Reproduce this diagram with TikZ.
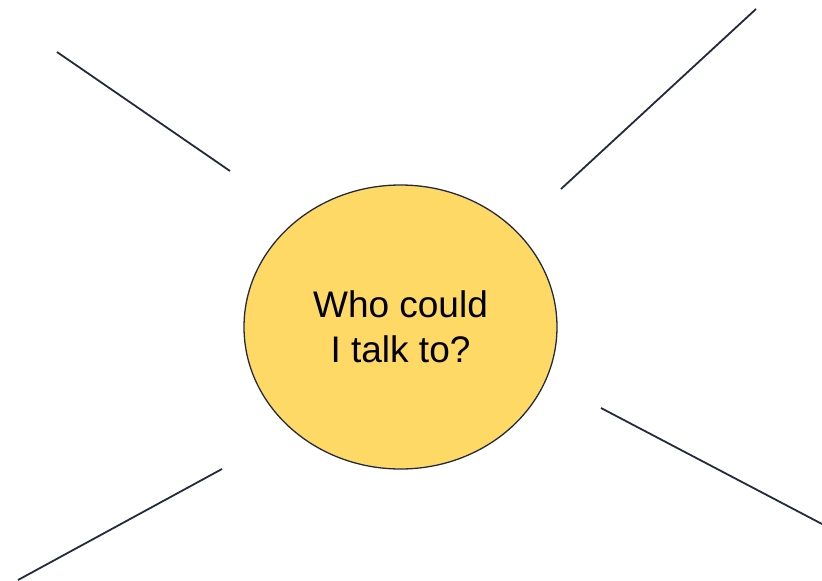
\documentclass[tikz,border=0pt]{standalone}
\usepackage{fontspec}
\setmainfont{Liberation Sans}
\usetikzlibrary{shapes.geometric}
\definecolor{bubblefill}{HTML}{FFD966}
\definecolor{inkline}{HTML}{222B3C}

\begin{document}
\begin{tikzpicture}[x=1pt, y=-1pt]
    \tikzset{
      bubble/.style={ellipse, draw=inkline, fill=bubblefill, line width=1.3pt,
        minimum width=313pt, minimum height=284pt, inner sep=0pt,
        align=center, font=\fontsize{37}{45}\selectfont},
      spoke/.style={draw=inkline, line width=1.8pt}
    }
    \useasboundingbox (0,0) rectangle (822,581);
    % Bolha central
    \node[bubble] (center) at (400.5,327) {Who could\\I talk to?};
    % Pontas das linhas
    \coordinate (nwA) at (57,52);
    \coordinate (nwB) at (230,171);
    \coordinate (neA) at (561,189);
    \coordinate (neB) at (756,9);
    \coordinate (seA) at (601,408);
    \coordinate (seB) at (822,524);
    \coordinate (swA) at (222,469);
    \coordinate (swB) at (18,580);
    % Linhas de resposta
    \draw[spoke] (nwA) -- (nwB);
    \draw[spoke] (neA) -- (neB);
    \draw[spoke] (seA) -- (seB);
    \draw[spoke] (swA) -- (swB);
\end{tikzpicture}
\end{document}
